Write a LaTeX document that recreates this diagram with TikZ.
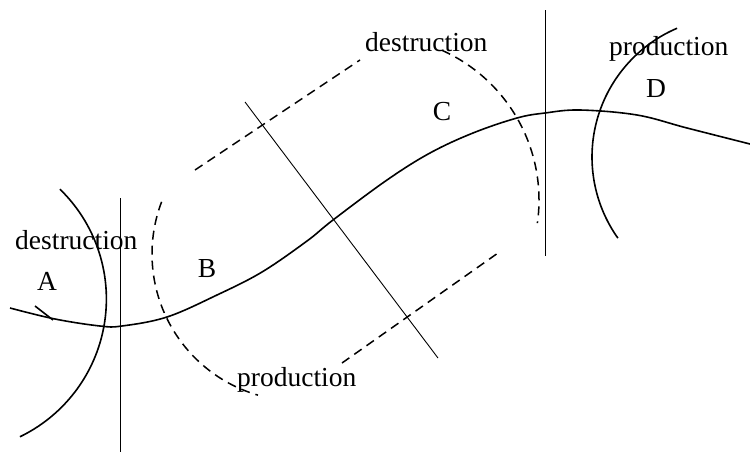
\documentclass[tikz,border=0pt]{standalone}
\usepackage{fontspec}
\setmainfont{Liberation Serif}
\begin{document}
\begin{tikzpicture}[x=1pt,y=-1pt,
  thick line/.style={line width=1.6pt},
  thin line/.style={line width=0.9pt},
  dash line/.style={line width=1.5pt,dash pattern=on 9pt off 6pt},
  lbl/.style={inner sep=0pt,font=\fontsize{27.5}{30}\selectfont}]
\useasboundingbox (0,0) rectangle (750,456);
% main curve
\draw[thick line] plot[smooth,tension=0.6] coordinates {(10,308) (55,319) (100,326) (122,326) (167,317) (217,295) (262,272) (307,241) (333,220) (387,180) (430,153) (473,133) (517,118) (545,113) (580,110) (637,115) (687,128) (750,144)};
% half arrow tick
\draw[thick line] (35,306) -- (53,320);
% vertical lines
\draw[thin line] (120,198) -- (120,452);
\draw[thin line] (545,10) -- (545,256);
% diagonal line
\draw[thin line] (245,102) -- (438,358);
% solid arcs
\draw[thick line] (-46.6,299) ++(-45.9:153) arc[start angle=-45.9,end angle=64.2,radius=153];
\draw[thick line] (732,157) ++(246.9:140) arc[start angle=246.9,end angle=144.6,radius=140];
% dashed arcs and lines
\draw[dash line] (299,254) ++(200.8:147) arc[start angle=200.8,end angle=106.2,radius=147];
\draw[dash line] (375,200) ++(-65.9:164) arc[start angle=-65.9,end angle=8.1,radius=164];
\draw[dash line] (195,170) -- (360,60);
\draw[dash line] (342,363) -- (498,253);
% labels
\node[lbl,anchor=base west] (d1) at (15,249) {destruction};
\node[lbl,anchor=base west] (d2) at (365,51) {destruction};
\node[lbl,anchor=base west] (p1) at (609,55) {production};
\node[lbl,anchor=base west] (p2) at (237,386) {production};
\node[lbl,anchor=base] (A) at (47,290) {A};
\node[lbl,anchor=base] (B) at (207,277) {B};
\node[lbl,anchor=base] (C) at (442,120) {C};
\node[lbl,anchor=base] (D) at (656,97) {D};
\end{tikzpicture}
\end{document}
